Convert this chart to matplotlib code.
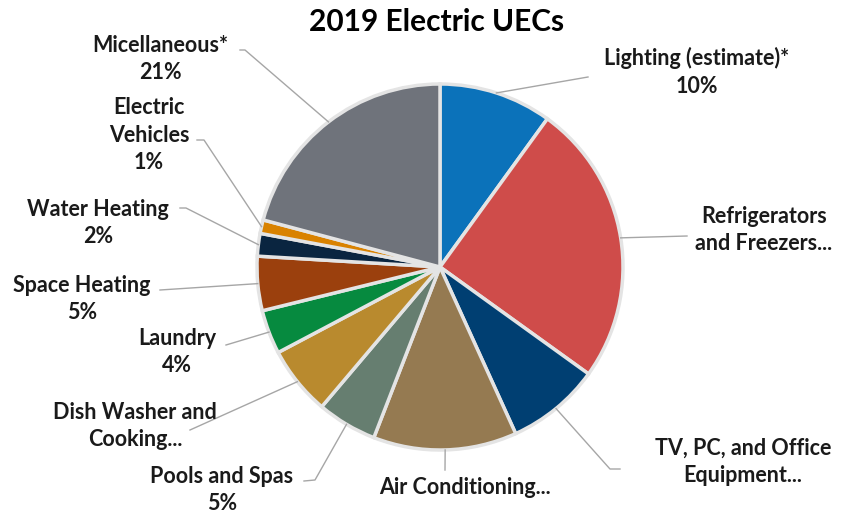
import numpy as np
import matplotlib.pyplot as plt

labels = ["Lighting (estimate)*\n10%", "Refrigerators\nand Freezers...",
          "TV, PC, and Office\nEquipment...", "Air Conditioning...",
          "Pools and Spas\n5%", "Dish Washer and\nCooking...", "Laundry\n4%",
          "Space Heating\n5%", "Water Heating\n2%", "Electric\nVehicles\n1%",
          "Micellaneous*\n21%"]
shares = [10.0, 25.0, 8.3, 12.7, 5.3, 6.1, 3.9, 4.8, 2.0, 1.2, 20.9]
colors = ["#0B72BA", "#CF4C4A", "#003F72", "#957A51", "#667E70", "#B98A2E",
          "#068A3F", "#9B400D", "#0A2540", "#D98200", "#6F737B"]

W, H = 844, 516
cx, cy, r = 440, 267, 183

# label text centre (px from top-left) and elbow point of the leader line
text_pos = [(697, 72), (764, 230), (743, 462), (465, 488), (222, 490),
            (135, 426), (177, 352), (82, 299), (98, 223), (149, 135),
            (160, 59)]
elbow = [(588, 77), (687, 236), (610, 469), (445, 470), (315, 480),
         (190, 430), (226, 345), (160, 290), (186, 208), (204, 140),
         (245, 50)]
line_end = [(588, 77), (687, 236), (620, 469), (445, 470), (304, 481),
            (190, 430), (226, 345), (160, 290), (180, 208), (197, 140),
            (240, 50)]


def Y(y):
    return H - y


fig = plt.figure(figsize=(W / 100, H / 100), dpi=100)
ax = fig.add_axes([0, 0, 1, 1])

wedges, _ = ax.pie(shares, colors=colors, startangle=90, counterclock=False,
                   center=(cx, Y(cy)), radius=r, frame=True,
                   wedgeprops=dict(edgecolor="#e4e4e4", linewidth=2.5))
ax.set_xlim(0, W)
ax.set_ylim(0, H)
ax.axis("off")

font = ["Lato", "DejaVu Sans"]
tot = sum(shares)
acc = 0
for i, lab in enumerate(labels):
    mid = (acc + shares[i] / 2) / tot * 2 * np.pi
    acc += shares[i]
    ax_x = cx + r * np.sin(mid)
    ax_y = cy - r * np.cos(mid)
    xs = [ax_x, elbow[i][0], line_end[i][0]]
    ys = [Y(ax_y), Y(elbow[i][1]), Y(line_end[i][1])]
    ax.plot(xs, ys, color="#a6a6a6", lw=1)
    ax.text(text_pos[i][0], Y(text_pos[i][1]), lab, ha="center", va="center",
            fontsize=15.5, fontweight="bold", family=font, color="#1a1a1a",
            linespacing=1.4)

ax.text(437, Y(22), "2019 Electric UECs", ha="center", va="center",
        fontsize=21.5, fontweight="bold", family=font, color="black")

fig.savefig("out.png", dpi=100)
